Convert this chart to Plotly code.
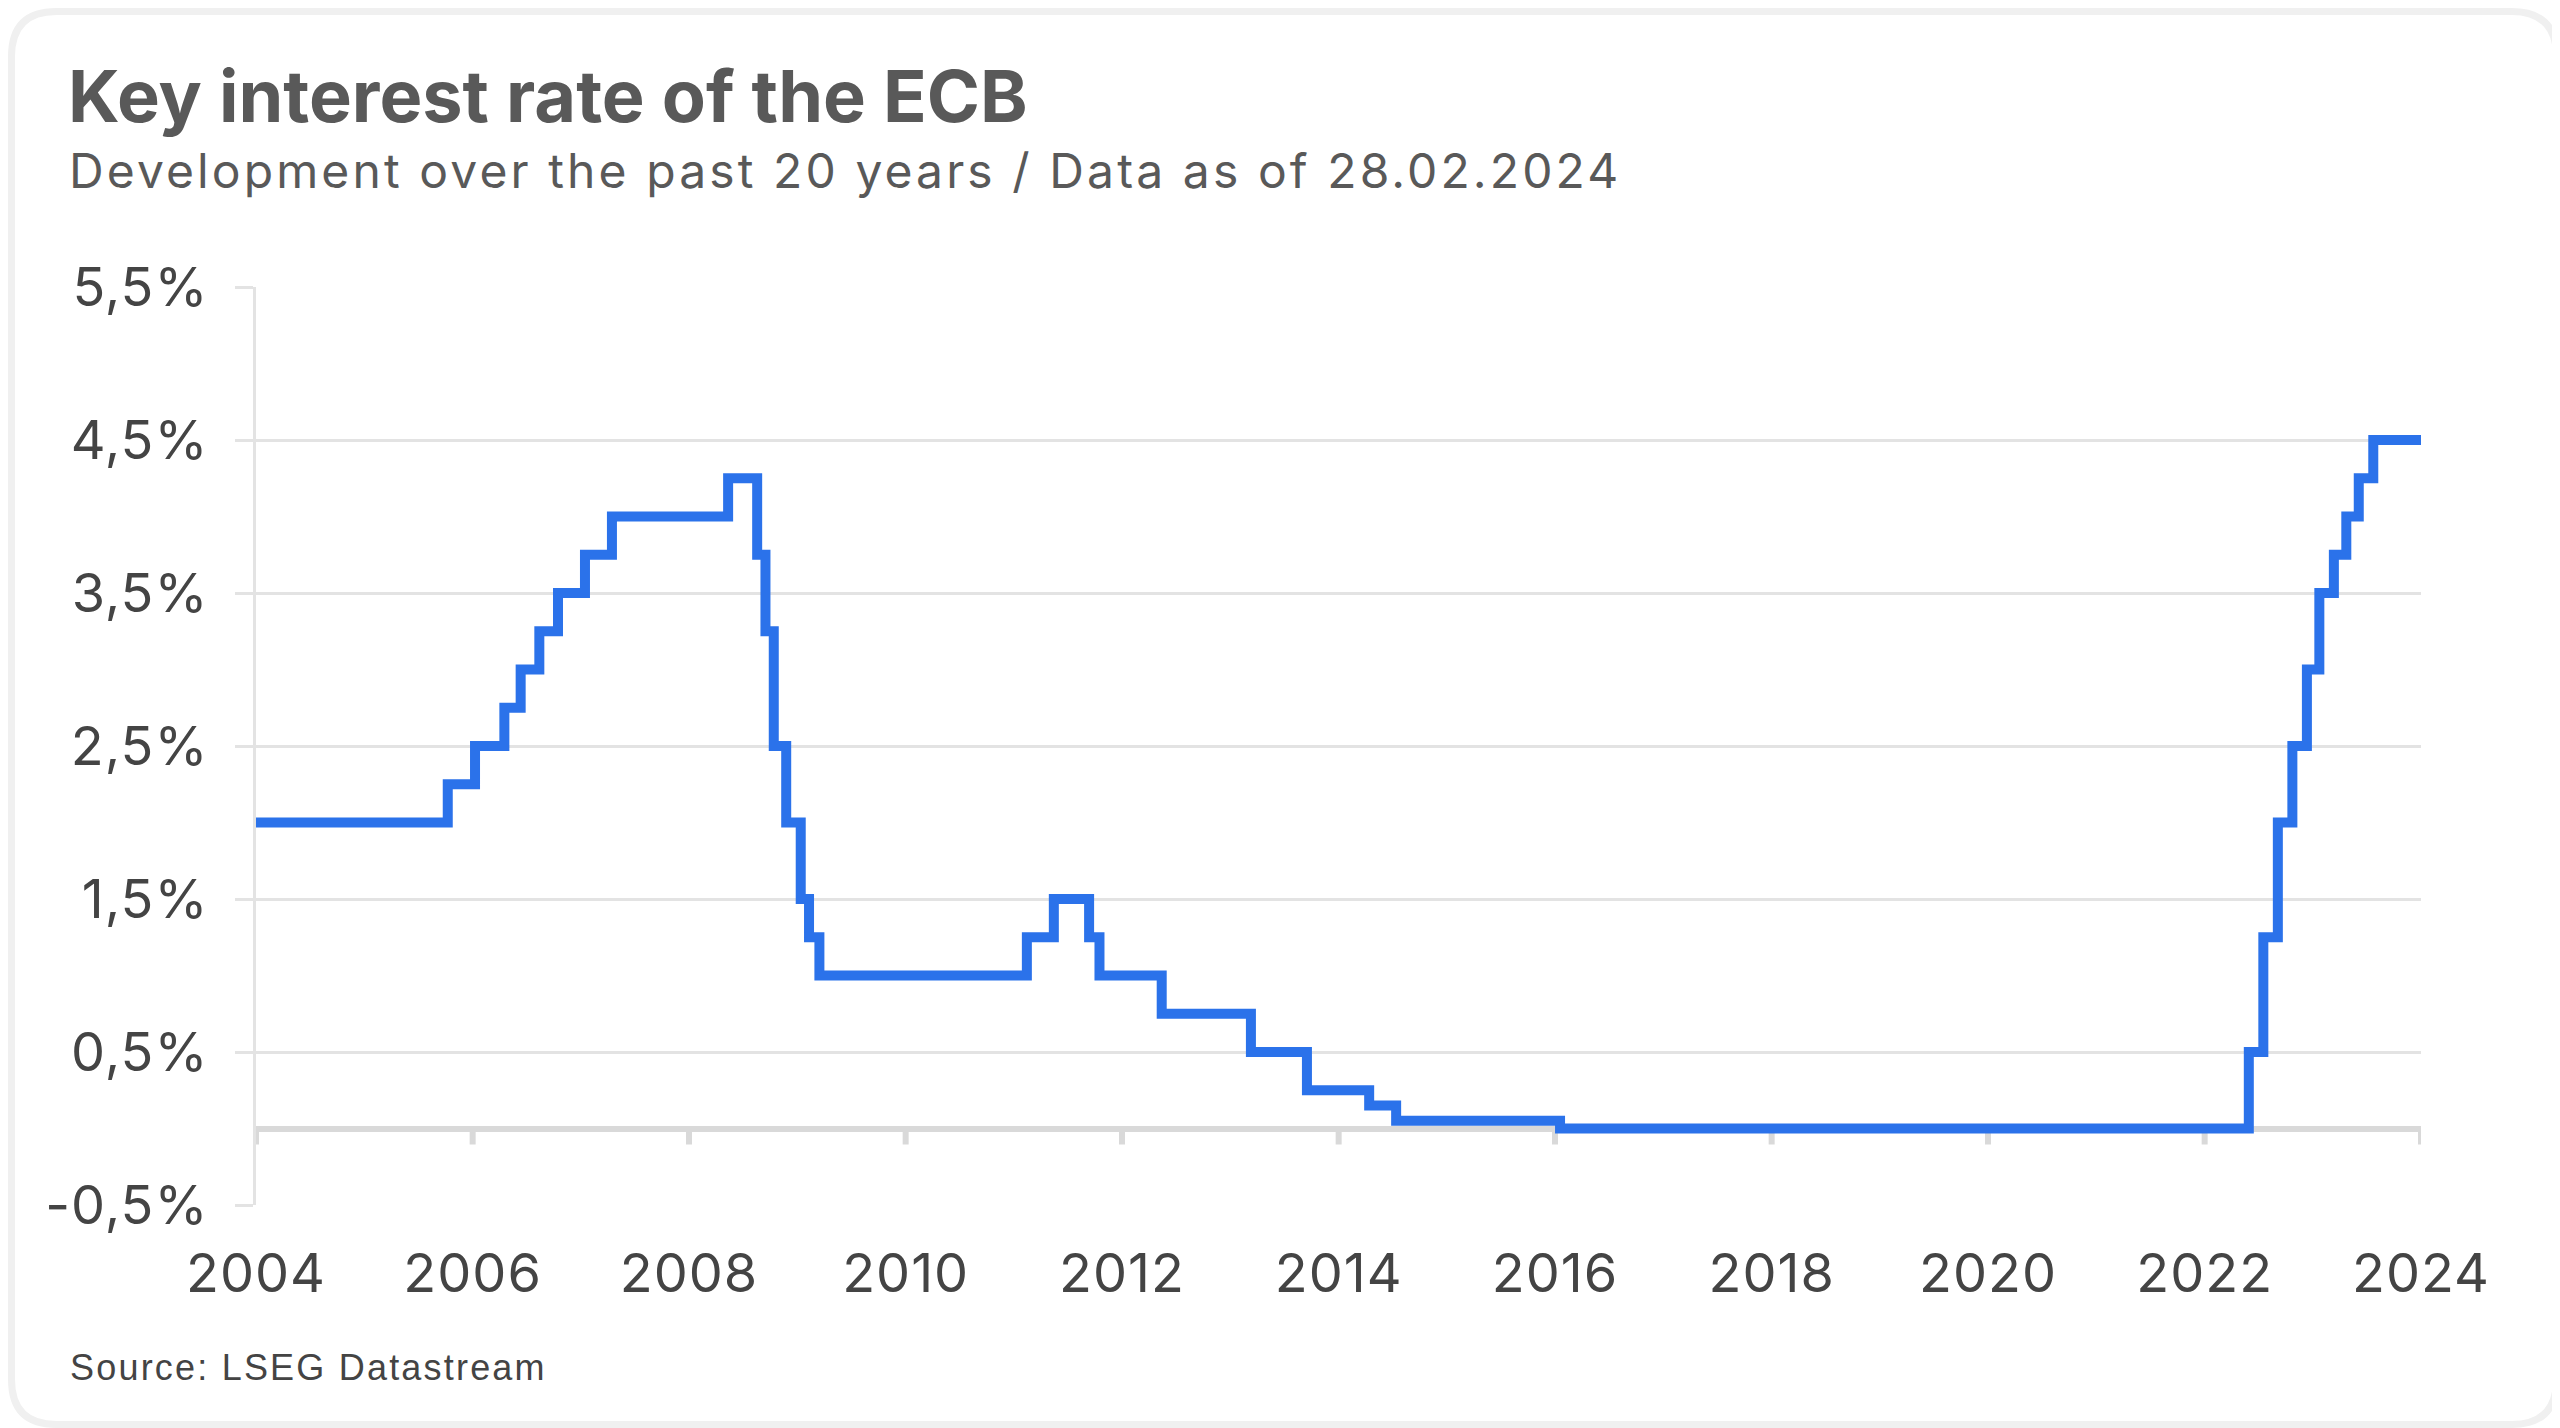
import plotly.graph_objects as go

# ---------------- data ----------------
change_dates = ["2004-02-28", "2005-12-06", "2006-03-08", "2006-06-15", "2006-08-09",
                "2006-10-11", "2006-12-13", "2007-03-14", "2007-06-13", "2008-07-09",
                "2008-10-15", "2008-11-12", "2008-12-10", "2009-01-21", "2009-03-11",
                "2009-04-08", "2009-05-13", "2011-04-13", "2011-07-13", "2011-11-09",
                "2011-12-14", "2012-07-11", "2013-05-08", "2013-11-13", "2014-06-11",
                "2014-09-10", "2016-03-16", "2022-07-27", "2022-09-14", "2022-11-02",
                "2022-12-21", "2023-02-08", "2023-03-22", "2023-05-10", "2023-06-21",
                "2023-08-02", "2023-09-20"]
rates = [2.00, 2.25, 2.50, 2.75, 3.00,
         3.25, 3.50, 3.75, 4.00, 4.25,
         3.75, 3.25, 2.50, 2.00, 1.50,
         1.25, 1.00, 1.25, 1.50, 1.25,
         1.00, 0.75, 0.50, 0.25, 0.15,
         0.05, 0.00, 0.50, 1.25, 2.00,
         2.50, 3.00, 3.50, 3.75, 4.00,
         4.25, 4.50]
data_end = "2024-02-28"

x_tick_dates = ["2004-02-28", "2006-02-28", "2008-02-28", "2010-02-28", "2012-02-28",
                "2014-02-28", "2016-02-28", "2018-02-28", "2020-02-28", "2022-02-28",
                "2024-02-28"]
x_tick_text = ["2004", "2006", "2008", "2010", "2012", "2014", "2016", "2018", "2020",
               "2022", "2024"]
y_tick_vals = [-0.5, 0.5, 1.5, 2.5, 3.5, 4.5, 5.5]
y_tick_text = ["-0,5%", "0,5%", "1,5%", "2,5%", "3,5%", "4,5%", "5,5%"]

title_text = "Key interest rate of the ECB"
subtitle_text = "Development over the past 20 years / Data as of 28.02.2024"
source_text = "Source: LSEG Datastream"

# ---------------- layout geometry ----------------
W, H = 2552, 1420
L, R, T, B = 248, 139, 279, 223
PW, PH = W - L - R, H - T - B


def px(xp):
    return (xp - L) / PW


def py(yp):
    return (H - B - yp) / PH


def spaced(s, ls):
    return f'<span style="letter-spacing:{ls}px">{s}</span>'


LINE_COLOR = "#2B72EA"
GRID = "#E3E3E3"
ZERO = "#D9D9D9"

fig = go.Figure()
fig.add_trace(go.Scatter(
    x=change_dates + [data_end],
    y=rates + [rates[-1]],
    mode="lines",
    line=dict(color=LINE_COLOR, width=10, shape="hv"),
    hoverinfo="skip",
    showlegend=False,
))

# rounded card border
rad = 45
x0, x1, y0, y1 = 3.5, W - 3.5, 3.5, H - 3.5
path = (f"M {px(x0 + rad)} {py(y0)} L {px(x1 - rad)} {py(y0)} "
        f"Q {px(x1)} {py(y0)} {px(x1)} {py(y0 + rad)} "
        f"L {px(x1)} {py(y1 - rad)} "
        f"Q {px(x1)} {py(y1)} {px(x1 - rad)} {py(y1)} "
        f"L {px(x0 + rad)} {py(y1)} "
        f"Q {px(x0)} {py(y1)} {px(x0)} {py(y1 - rad)} "
        f"L {px(x0)} {py(y0 + rad)} "
        f"Q {px(x0)} {py(y0)} {px(x0 + rad)} {py(y0)} Z")
shapes = [dict(type="path", xref="paper", yref="paper", path=path,
               line=dict(color="#F0F0F0", width=7), fillcolor="rgba(0,0,0,0)",
               layer="below")]

# tick marks hanging below the zero line
for d in x_tick_dates:
    shapes.append(dict(type="line", xref="x", yref="y", ysizemode="pixel", yanchor=0,
                       x0=d, x1=d, y0=0, y1=-16,
                       line=dict(color=ZERO, width=6), layer="below"))

annotations = [
    dict(text=f"<b>{title_text}</b>", xref="paper", yref="paper", x=px(58), y=py(88),
         xanchor="left", yanchor="middle", showarrow=False,
         font=dict(family="Inter", size=72, color="#595959")),
    dict(text=spaced(subtitle_text, 3.1), xref="paper", yref="paper", x=px(59), y=py(162),
         xanchor="left", yanchor="middle", showarrow=False,
         font=dict(family="Inter", size=48, color="#595959")),
    dict(text=spaced(source_text, 2.2), xref="paper", yref="paper", x=px(60), y=py(1359),
         xanchor="left", yanchor="middle", showarrow=False,
         font=dict(family="Liberation Sans, Arial", size=36, color="#444444")),
]

fig.update_layout(
    width=W, height=H,
    margin=dict(l=L, r=R, t=T, b=B, pad=0),
    paper_bgcolor="white", plot_bgcolor="white",
    shapes=shapes, annotations=annotations,
    showlegend=False,
    xaxis=dict(
        type="date", range=[x_tick_dates[0], data_end],
        tickmode="array", tickvals=x_tick_dates,
        ticktext=[spaced(t, 1) for t in x_tick_text],
        showgrid=False, zeroline=False, showline=False, ticks="",
        ticklabelstandoff=32,
        tickfont=dict(family="Inter", size=54, color="#444444"),
        fixedrange=True,
    ),
    yaxis=dict(
        range=[-0.5, 5.5], tickmode="array", tickvals=y_tick_vals,
        ticktext=[spaced(t, 1) for t in y_tick_text],
        showgrid=True, gridcolor=GRID, gridwidth=2.5,
        zeroline=True, zerolinecolor=ZERO, zerolinewidth=6,
        showline=True, linecolor=GRID, linewidth=2.5,
        ticks="outside", ticklen=18, tickwidth=2.5, tickcolor=GRID,
        ticklabelstandoff=16,
        tickfont=dict(family="Inter", size=54, color="#444444"),
        fixedrange=True,
    ),
)

fig.write_html("out.html")
